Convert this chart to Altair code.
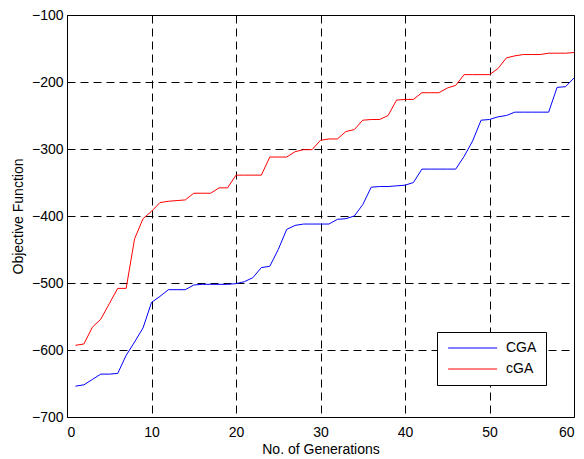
import altair as alt
import pandas as pd

generations = list(range(1, 61))
series_names = ["CGA", "cGA"]
series_colors = ["#0000ff", "#ff0000"]

cga_values = [
    -654, -652, -644, -636, -636, -635, -608, -588, -567, -529,
    -520, -510, -510, -510, -503, -502, -502, -502, -502, -501,
    -498, -492, -477, -475, -450, -420, -414, -412, -412, -412,
    -412, -405, -404, -400, -383, -357, -356, -356, -355, -354,
    -350, -330, -330, -330, -330, -330, -311, -288, -257, -256,
    -252, -250, -245, -245, -245, -245, -245, -208, -207, -194,
]
cga_small_values = [
    -593, -591, -566, -554, -531, -508, -508, -434, -404, -393,
    -380, -378, -377, -376, -366, -366, -366, -358, -358, -339,
    -339, -339, -339, -312, -312, -312, -304, -301, -301, -287,
    -285, -285, -274, -271, -257, -256, -256, -250, -227, -226,
    -226, -216, -216, -216, -209, -205, -189, -189, -189, -189,
    -180, -164, -161, -159, -159, -159, -157, -157, -157, -156,
]

x_ticks = [0, 10, 20, 30, 40, 50, 60]
y_ticks = [-700, -600, -500, -400, -300, -200, -100]

df = pd.DataFrame({
    "gen": generations * 2,
    "value": cga_values + cga_small_values,
    "series": [series_names[0]] * len(generations) + [series_names[1]] * len(generations),
})

FONT = "Liberation Sans"

chart = alt.Chart(df).mark_line(strokeWidth=1, clip=True).encode(
    x=alt.X("gen:Q",
            scale=alt.Scale(domain=[0, 60], nice=False, zero=False),
            axis=alt.Axis(values=x_ticks, title="No. of Generations",
                          labelPadding=8, titlePadding=3, format="d")),
    y=alt.Y("value:Q",
            scale=alt.Scale(domain=[-700, -100], nice=False, zero=False),
            axis=alt.Axis(values=y_ticks, title="Objective Function",
                          labelPadding=4, titlePadding=6, format="d")),
    color=alt.Color("series:N",
                    scale=alt.Scale(domain=series_names, range=series_colors),
                    legend=alt.Legend(
                        title=None, orient="none", legendX=370, legendY=317,
                        symbolType="M-1,0H9", symbolSize=96, symbolStrokeWidth=1,
                        labelOffset=46, padding=9, rowPadding=7,
                        strokeColor="black", fillColor="white",
                        labelFont=FONT, labelFontSize=14, labelColor="black",
                        cornerRadius=0)),
).properties(
    width=507, height=402,
    autosize=alt.AutoSizeParams(type="none"),
    padding={"left": 59, "top": 7, "right": 2, "bottom": 42},
).configure_view(
    stroke="black", strokeWidth=1
).configure_axis(
    domainColor="black", domainWidth=1,
    gridColor="black", gridDash=[8, 5], gridOpacity=1, gridWidth=1,
    ticks=True, tickSize=0, tickWidth=0,
    labelFont=FONT, labelFontSize=14, labelColor="black",
    titleFont=FONT, titleFontSize=14, titleFontWeight="normal", titleColor="black",
)

chart.save("out.html", embed_options={"renderer": "svg", "actions": False})
